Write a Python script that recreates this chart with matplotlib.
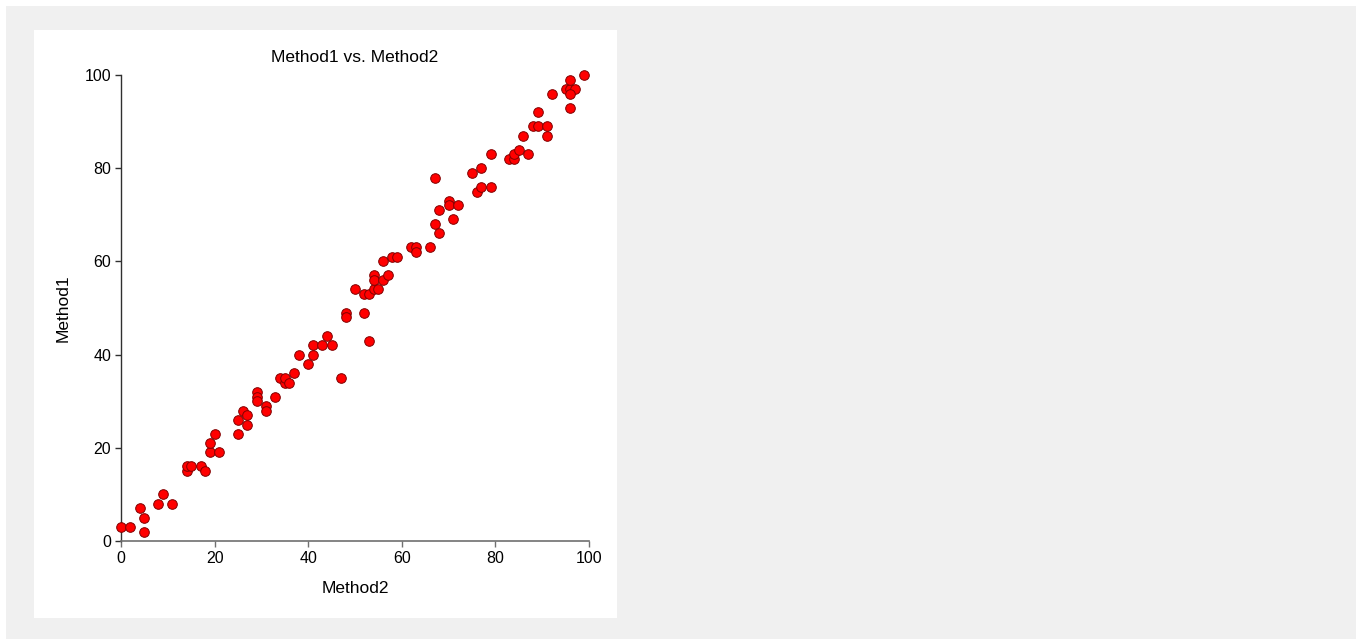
import matplotlib
matplotlib.use("Agg")
import matplotlib.pyplot as plt

method2 = [0, 2, 4, 5, 5, 8, 9, 11, 14, 14, 15, 17, 18, 19, 19, 20, 21, 25, 25, 26,
           27, 27, 29, 29, 29, 31, 31, 33, 34, 35, 35, 36, 37, 38, 40, 41, 41, 43, 44, 45,
           47, 48, 48, 50, 52, 52, 53, 53, 54, 54, 54, 55, 56, 57, 56, 58, 59, 62, 63, 63,
           66, 67, 68, 68, 67, 70, 70, 71, 72, 75, 76, 77, 77, 79, 79, 83, 84, 84, 85, 87,
           86, 88, 89, 89, 91, 91, 92, 95, 96, 97, 96, 96, 96, 99]
method1 = [3, 3, 7, 5, 2, 8, 10, 8, 15, 16, 16, 16, 15, 19, 21, 23, 19, 23, 26, 28,
           27, 25, 32, 31, 30, 29, 28, 31, 35, 34, 35, 34, 36, 40, 38, 40, 42, 42, 44, 42,
           35, 49, 48, 54, 49, 53, 53, 43, 54, 57, 56, 54, 56, 57, 60, 61, 61, 63, 63, 62,
           63, 68, 66, 71, 78, 73, 72, 69, 72, 79, 75, 76, 80, 76, 83, 82, 82, 83, 84, 83,
           87, 89, 89, 92, 89, 87, 96, 97, 97, 97, 96, 99, 93, 100]
ticks = [0, 20, 40, 60, 80, 100]
title = "Method1 vs. Method2"
xlabel = "Method2"
ylabel = "Method1"

plt.rcParams['font.family'] = ['Liberation Sans', 'DejaVu Sans']

W, H = 1356, 639
fig = plt.figure(figsize=(W / 100, H / 100), dpi=100)
fig.patch.set_facecolor('white')


def panel(x0, y0, x1, y1, color, z):
    a = fig.add_axes([x0 / W, 1 - y1 / H, (x1 - x0) / W, (y1 - y0) / H], zorder=z)
    a.set_facecolor(color)
    a.set_xticks([])
    a.set_yticks([])
    for s in a.spines.values():
        s.set_visible(False)
    return a


panel(6, 6, W, H, '#f0f0f0', -2)
panel(34, 30, 617, 618, 'white', -1)

ax = fig.add_axes([121 / W, 1 - 541 / H, (589 - 121) / W, (541 - 75) / H], zorder=1)
ax.set_facecolor('none')
ax.scatter(method2, method1, s=48, facecolor='#ff0000', edgecolor='#800000',
           linewidths=0.7, clip_on=False, zorder=3)
ax.set_xlim(0, 100)
ax.set_ylim(0, 100)
ax.set_xticks(ticks)
ax.set_yticks(ticks)
for s in ['top', 'right']:
    ax.spines[s].set_visible(False)
ax.spines['left'].set_color('#303030')
ax.spines['bottom'].set_color('#707070')
ax.spines['left'].set_linewidth(1.0)
ax.spines['bottom'].set_linewidth(1.2)
ax.tick_params(axis='y', direction='out', length=4, width=1, color='#303030',
               labelsize=11.5, labelcolor='black', pad=3)
ax.tick_params(axis='x', direction='out', length=4, width=1, color='#707070',
               labelsize=11.5, labelcolor='black', pad=3)
ax.set_title(title, fontsize=12.5, pad=9)
ax.set_xlabel(xlabel, fontsize=12.5, labelpad=11)
ax.set_ylabel(ylabel, fontsize=12.5, labelpad=10)

fig.savefig("out.png", dpi=100, facecolor=fig.get_facecolor())
